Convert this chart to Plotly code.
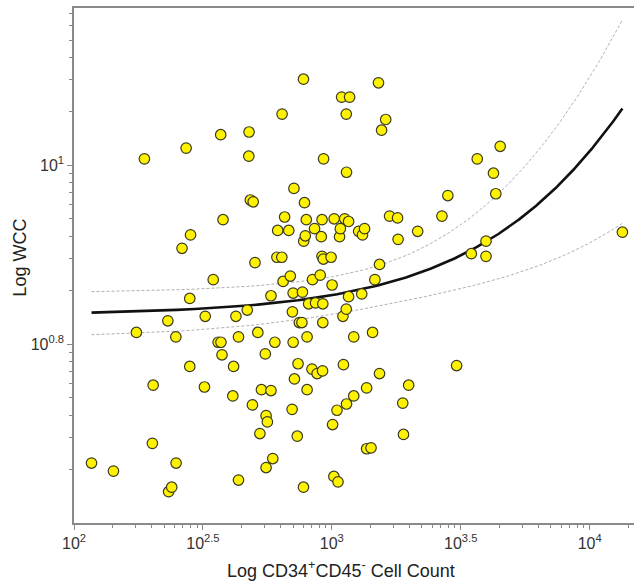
import numpy as np
import plotly.graph_objects as go

# ---- data (log10 values) ----
log_cd34_count = [
    2.068, 2.153, 2.242, 2.273, 2.307, 2.304, 2.364, 2.367, 2.379, 2.395,
    2.396, 2.419, 2.435, 2.449, 2.449, 2.452, 2.509, 2.506, 2.540, 2.559,
    2.570, 2.569, 2.578, 2.574, 2.616, 2.619, 2.628, 2.638, 2.638, 2.672,
    2.678, 2.679, 2.684, 2.695, 2.692, 2.702, 2.713, 2.721, 2.727, 2.742,
    2.745, 2.750, 2.745, 2.764, 2.764, 2.771, 2.779, 2.790, 2.787, 2.806,
    2.807, 2.811, 2.817, 2.833, 2.839, 2.850, 2.847, 2.850, 2.846, 2.853,
    2.855, 2.866, 2.869, 2.874, 2.884, 2.886, 2.890, 2.890, 2.891, 2.894,
    2.897, 2.901, 2.904, 2.904, 2.910, 2.923, 2.925, 2.937, 2.933, 2.943,
    2.955, 2.959, 2.962, 2.962, 2.965, 2.965, 2.964, 2.967, 2.968, 2.997,
    3.001, 3.003, 3.008, 3.024, 3.009, 3.020, 3.030, 3.033, 3.038, 3.043,
    3.045, 3.050, 3.056, 3.056, 3.057, 3.057, 3.065, 3.065, 3.069, 3.085,
    3.085, 3.104, 3.116, 3.119, 3.127, 3.135, 3.135, 3.152, 3.158, 3.167,
    3.181, 3.185, 3.185, 3.193, 3.209, 3.224, 3.255, 3.257, 3.275, 3.278,
    3.298, 3.333, 3.427, 3.450, 3.484, 3.541, 3.564, 3.598, 3.598, 3.627,
    3.636, 3.653, 4.127,
]
log_wcc = [
    0.667, 0.658, 0.813, 1.007, 0.754, 0.689, 0.826, 0.635, 0.640, 0.808,
    0.667, 0.907, 1.019, 0.851, 0.775, 0.922, 0.831, 0.752, 0.872, 0.802,
    0.802, 1.034, 0.939, 0.788, 0.742, 0.775, 0.831, 0.808, 0.648, 0.838,
    1.010, 1.037, 0.961, 0.959, 0.732, 0.891, 0.813, 0.700, 0.749, 0.789,
    0.720, 0.713, 0.662, 0.854, 0.748, 0.672, 0.802, 0.927, 0.897, 0.897,
    1.057, 0.870, 0.942, 0.927, 0.876, 0.857, 0.836, 0.802, 0.727, 0.974,
    0.761, 0.697, 0.778, 0.824, 0.824, 0.858, 1.096, 0.640, 0.915, 0.958,
    0.921, 0.939, 0.808, 0.749, 0.845, 0.772, 0.872, 0.846, 0.929, 0.767,
    0.877, 0.920, 0.939, 0.898, 0.845, 0.824, 0.770, 0.895, 1.007, 0.897,
    0.866, 0.710, 0.652, 0.646, 0.940, 0.726, 0.920, 0.929, 1.076, 0.831,
    0.777, 0.940, 1.057, 0.839, 0.992, 0.733, 0.937, 0.853, 1.076, 0.808,
    0.742, 0.926, 0.856, 0.922, 0.929, 0.751, 0.683, 0.684, 0.813, 0.872,
    1.092, 0.889, 0.767, 1.039, 1.051, 0.943, 0.941, 0.917, 0.734, 0.699,
    0.754, 0.926, 0.943, 0.966, 0.776, 0.901, 1.007, 0.915, 0.898, 0.991,
    0.968, 1.021, 0.925,
]

# Linear fit (in linear units) and 95% band
fit_intercept = 6.80
fit_slope = 0.000356
band_xmean = 800.0
band_c0 = 0.118
band_c1 = 5.45e-8

# Axis ticks
x_major_exp = [2, 2.5, 3, 3.5, 4]
x_major_text = ["10<sup>2</sup>", "10<sup>2.5</sup>", "10<sup>3</sup>",
                "10<sup>3.5</sup>", "10<sup>4</sup>"]
y_major_exp = [0.8, 1.0]
y_major_text = ["10<sup>0.8</sup>", "10<sup>1</sup>"]

x_range = [2.0, 4.172]
y_range = [0.6, 1.1756]

# ---- derived ----
cd34 = 10 ** np.array(log_cd34_count)
wcc = 10 ** np.array(log_wcc)

xf = np.linspace(cd34.min(), cd34.max(), 300)
yf = fit_intercept + fit_slope * xf
hw = np.sqrt(band_c0 + band_c1 * (xf - band_xmean) ** 2)


def minor_vals(majors, step, lo, hi):
    vals = []
    for s in majors + [majors[0] - step]:
        for k in range(2, 10):
            v = s + step * np.log10(k)
            if lo < v < hi:
                vals.append(10 ** v)
    return vals


x_minor = minor_vals(x_major_exp, 0.5, x_range[0], x_range[1])
y_minor = minor_vals(y_major_exp, 0.2, y_range[0], y_range[1])

fig = go.Figure()
fig.add_trace(go.Scatter(x=xf, y=yf + hw, mode="lines",
                         line=dict(color="#b0b0b0", width=1, dash="3px,2px"),
                         hoverinfo="skip", showlegend=False))
fig.add_trace(go.Scatter(x=xf, y=yf - hw, mode="lines",
                         line=dict(color="#b0b0b0", width=1, dash="3px,2px"),
                         hoverinfo="skip", showlegend=False))
fig.add_trace(go.Scatter(x=xf, y=yf, mode="lines",
                         line=dict(color="#111111", width=2.6),
                         hoverinfo="skip", showlegend=False))
fig.add_trace(go.Scatter(x=cd34, y=wcc, mode="markers",
                         marker=dict(size=10.5, color="#FFF200",
                                     line=dict(color="#3a3a20", width=1.2)),
                         showlegend=False))

FONT = "Liberation Sans, Arial, sans-serif"
axis_common = dict(
    showgrid=False, zeroline=False, showline=True, linecolor="#8a8a8a",
    linewidth=1.5, ticks="outside", ticklen=5, tickwidth=1, tickcolor="#8a8a8a",
    tickfont=dict(family=FONT, size=16, color="#333333"),
)

fig.update_layout(
    width=634, height=585,
    margin=dict(l=74, r=0, t=8, b=62),
    paper_bgcolor="white", plot_bgcolor="white",
    xaxis=dict(type="log", range=x_range, tickmode="array",
               tickvals=[10 ** e for e in x_major_exp], ticktext=x_major_text,
               mirror=True,
               minor=dict(tickmode="array", tickvals=x_minor, ticks="outside",
                          ticklen=3, tickcolor="#8a8a8a", tickwidth=1),
               **axis_common),
    yaxis=dict(type="log", range=y_range, tickmode="array",
               tickvals=[10 ** e for e in y_major_exp], ticktext=y_major_text,
               minor=dict(tickmode="array", tickvals=y_minor, ticks="outside",
                          ticklen=3, tickcolor="#8a8a8a", tickwidth=1),
               **axis_common),
    annotations=[
        dict(text="Log CD34<sup>+</sup>CD45<sup>-</sup> Cell Count",
             xref="paper", yref="paper", x=(341 - 74) / 560, y=-0.09,
             xanchor="center", yanchor="middle", showarrow=False,
             font=dict(family=FONT, size=18, color="#222222")),
        dict(text="Log WCC", textangle=-90,
             xref="paper", yref="paper", x=-0.098, y=(524 - 258) / 516,
             xanchor="center", yanchor="middle", showarrow=False,
             font=dict(family=FONT, size=18, color="#222222")),
    ],
)

fig.write_html("out.html",
               config={"displayModeBar": False},
               post_script="document.body.style.margin='0';"
                           "document.body.style.overflow='hidden';")
